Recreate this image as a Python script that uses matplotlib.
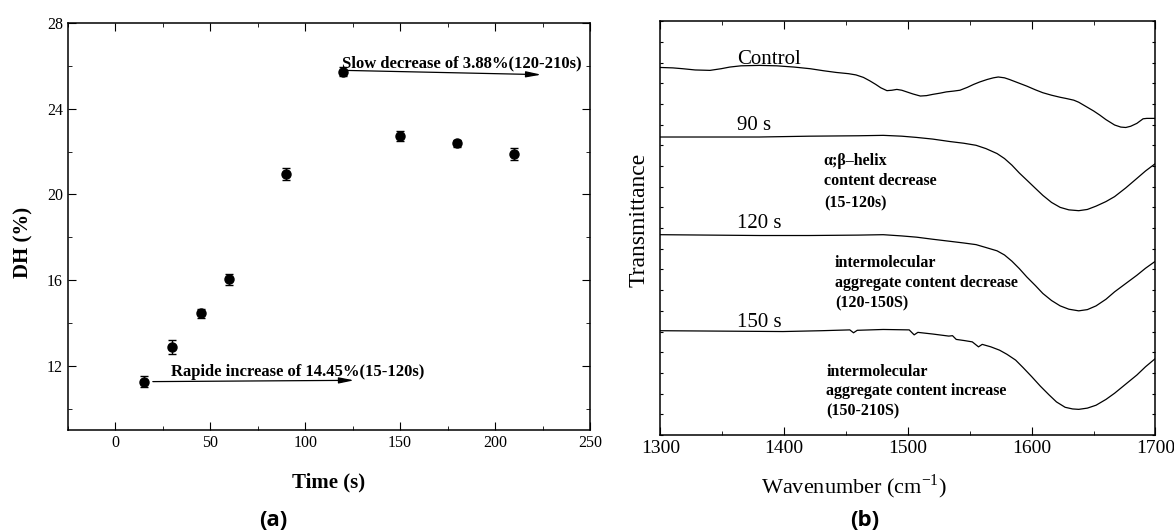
import matplotlib.pyplot as plt
from matplotlib.ticker import MultipleLocator, NullFormatter

plt.rcParams['font.family'] = ['Liberation Serif', 'DejaVu Serif']
plt.rcParams['mathtext.fontset'] = 'custom'
plt.rcParams['mathtext.rm'] = 'Liberation Serif'
plt.rcParams['axes.linewidth'] = 1.1

# (a) degree of hydrolysis vs time
time_s = [15, 30, 45, 60, 90, 120, 150, 180, 210]
dh = [11.26, 12.88, 14.45, 16.03, 20.94, 25.73, 22.72, 22.38, 21.89]
dh_err = [0.25, 0.32, 0.20, 0.25, 0.27, 0.20, 0.22, 0.15, 0.28]

# (b) FTIR spectra (arbitrary transmittance units, stacked)
wn_control = [1300, 1310, 1318, 1328, 1340, 1349, 1356, 1365, 1380, 1394, 1408,
              1421, 1432, 1442, 1452, 1458, 1464, 1469, 1474, 1478, 1483, 1487,
              1491, 1495, 1499, 1504, 1510, 1515, 1520, 1526, 1531, 1537, 1542,
              1548, 1553, 1558, 1564, 1569, 1573, 1578, 1582, 1589, 1596, 1603,
              1609, 1616, 1623, 1628, 1634, 1638, 1642, 1646, 1650, 1655, 1660,
              1667, 1672, 1676, 1680, 1685, 1690, 1693, 1700]
t_control = [88.8, 88.7, 88.5, 88.2, 88.1, 88.5, 88.9, 89.2, 89.3, 89.2, 88.9,
             88.5, 88.0, 87.6, 87.3, 87.0, 86.4, 85.6, 84.7, 83.9, 83.2, 83.3,
             83.5, 83.3, 82.9, 82.4, 81.9, 82.0, 82.3, 82.6, 82.9, 83.1, 83.3,
             84.0, 84.7, 85.3, 85.9, 86.3, 86.5, 86.3, 85.9, 85.1, 84.3, 83.4,
             82.7, 82.1, 81.6, 81.3, 80.9, 80.4, 79.7, 79.0, 78.3, 77.3, 76.2,
             74.9, 74.4, 74.3, 74.6, 75.3, 76.4, 76.5, 76.5]

wn_90 = [1300, 1340, 1380, 1420, 1460, 1480, 1495, 1507, 1520, 1534, 1545,
         1555, 1563, 1572, 1578, 1584, 1590, 1596, 1603, 1609, 1616, 1623,
         1630, 1638, 1645, 1652, 1660, 1667, 1676, 1685, 1692, 1700]
t_90 = [72.0, 72.0, 72.0, 72.2, 72.3, 72.4, 72.2, 71.9, 71.5, 70.9, 70.5,
        70.0, 69.2, 68.0, 66.8, 65.2, 63.3, 61.6, 59.6, 57.9, 56.2, 55.0,
        54.4, 54.2, 54.5, 55.3, 56.4, 57.6, 59.7, 62.0, 63.8, 65.6]

wn_120 = [1300, 1340, 1380, 1420, 1460, 1480, 1495, 1507, 1520, 1534, 1545,
          1555, 1563, 1572, 1578, 1584, 1590, 1596, 1603, 1609, 1616, 1623,
          1630, 1638, 1645, 1652, 1660, 1667, 1676, 1685, 1692, 1700]
t_120 = [48.4, 48.3, 48.2, 48.2, 48.3, 48.4, 48.1, 47.8, 47.3, 46.8, 46.4,
         46.0, 45.3, 44.5, 43.5, 42.0, 40.2, 38.2, 36.1, 34.2, 32.5, 31.2,
         30.4, 30.0, 30.3, 31.2, 32.8, 34.6, 36.6, 38.6, 40.3, 42.0]

wn_150 = [1300, 1350, 1399, 1430, 1453, 1456, 1459, 1480, 1501, 1505, 1508,
          1520, 1533, 1536, 1539, 1546, 1552, 1557, 1560, 1567, 1574, 1580,
          1587, 1593, 1600, 1607, 1614, 1620, 1627, 1633, 1638, 1645, 1652,
          1660, 1667, 1676, 1685, 1692, 1700]
t_150 = [25.2, 25.1, 25.0, 25.2, 25.4, 24.7, 25.3, 25.5, 25.4, 24.2, 24.8,
         24.4, 23.9, 24.0, 23.1, 22.8, 22.5, 21.3, 21.9, 21.3, 20.5, 19.5,
         18.1, 16.3, 14.1, 11.8, 9.7, 8.0, 6.7, 6.3, 6.2, 6.5, 7.2,
         8.6, 10.1, 12.3, 14.5, 16.5, 18.5]

fig = plt.figure(figsize=(11.74, 5.32), dpi=100)

# ---- panel (a)
ax1 = fig.add_axes([0.0577, 0.1917, 0.4449, 0.765])
ax1.errorbar(time_s, dh, yerr=dh_err, fmt='o', color='black', ms=6.5,
             capsize=3.2, elinewidth=1, capthick=1)
ax1.set_xlim(-25, 250)
ax1.set_ylim(9, 28)
ax1.xaxis.set_major_locator(MultipleLocator(50))
ax1.xaxis.set_minor_locator(MultipleLocator(25))
ax1.set_yticks([12, 16, 20, 24, 28])
ax1.yaxis.set_minor_locator(MultipleLocator(2))
ax1.tick_params(which='both', direction='in', top=True, right=True, labelsize=11.5)
ax1.tick_params(which='major', length=6)
ax1.tick_params(which='minor', length=3)
ax1.set_xlabel('Time (s)', fontsize=15, fontweight='bold')
ax1.xaxis.set_label_coords(0.5, -0.128)
ax1.xaxis.label.set_va('center')
ax1.set_ylabel('DH (%)', fontsize=15, fontweight='bold')
ax1.yaxis.set_label_coords(-0.0856, 0.462)
ax1.yaxis.label.set_va('center')

arrow_kw = dict(arrowstyle='-|>,head_length=0.9,head_width=0.18', color='black',
                lw=0.9, shrinkA=0, shrinkB=0)
ax1.annotate('', xy=(224.3, 25.59), xytext=(120.7, 25.79), arrowprops=arrow_kw)
ax1.text(119.3, 25.92, 'Slow decrease of 3.88%(120-210s)', fontsize=12,
         fontweight='bold', va='baseline')
ax1.annotate('', xy=(125.8, 11.32), xytext=(19.8, 11.26), arrowprops=arrow_kw)
ax1.text(29.5, 11.52, 'Rapide increase of 14.45%(15-120s)', fontsize=12,
         fontweight='bold', va='baseline')

# ---- panel (b)
ax2 = fig.add_axes([0.5626, 0.1823, 0.4216, 0.778])
for wn, t in [(wn_control, t_control), (wn_90, t_90), (wn_120, t_120), (wn_150, t_150)]:
    ax2.plot(wn, t, color='black', lw=0.9)
ax2.set_xlim(1300, 1700)
ax2.set_ylim(0, 100)
ax2.xaxis.set_major_locator(MultipleLocator(100))
ax2.xaxis.set_minor_locator(MultipleLocator(50))
ax2.yaxis.set_major_locator(MultipleLocator(5))
ax2.yaxis.set_major_formatter(NullFormatter())
ax2.tick_params(which='both', direction='in', top=True, right=True, labelsize=14)
ax2.tick_params(axis='x', which='major', length=6)
ax2.tick_params(axis='x', which='minor', length=3)
ax2.tick_params(axis='y', which='major', length=2.5)
ax2.set_xlabel(r'Wavenumber (cm$^{-1}$)', fontsize=16)
ax2.xaxis.set_label_coords(0.391, -0.125)
ax2.xaxis.label.set_va('center')
ax2.set_ylabel('Transmittance', fontsize=17)
ax2.yaxis.set_label_coords(-0.043, 0.52)
ax2.yaxis.label.set_va('center')

for label, y in [('Control', 89.6), ('90 s', 73.7), ('120 s', 49.9), ('150 s', 26.2)]:
    ax2.text(1362, y, label, fontsize=15, va='baseline')

notes = [
    (1432, [65.2, 60.4, 55.0], ['α;β–helix', 'content decrease', '(15-120s)']),
    (1441, [40.7, 35.8, 30.8], ['intermolecular', 'aggregate content decrease', '(120-150S)']),
    (1434, [14.3, 9.7, 4.8], ['intermolecular', 'aggregate content increase', '(150-210S)']),
]
for x, ys, lines in notes:
    for y, line in zip(ys, lines):
        ax2.text(x, y, line, fontsize=11.5, fontweight='bold', va='baseline')

fig.text(273 / 1174, 1 - 521 / 532, '(a)', fontsize=16, fontweight='bold',
         family=['Open Sans', 'DejaVu Sans'], ha='center', va='center')
fig.text(865 / 1174, 1 - 521 / 532, '(b)', fontsize=16, fontweight='bold',
         family=['Open Sans', 'DejaVu Sans'], ha='center', va='center')

fig.savefig('out.png', dpi=100)
